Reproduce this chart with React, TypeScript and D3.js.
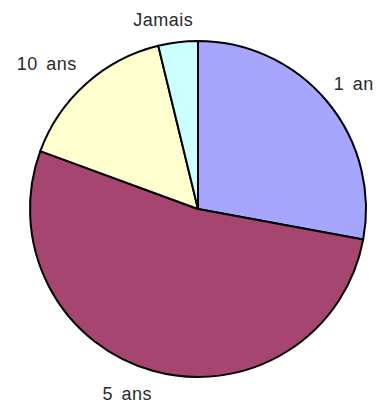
import React from "react";
import * as d3 from "d3";

const categories = ["1 an", "5 ans", "10 ans", "Jamais"];
const values = [27.9, 52.7, 15.6, 3.8];
const colors = ["#a6a6ff", "#a6456f", "#ffffd0", "#ccffff"];

// label nudges (px) relative to the arc centroid at the label radius
const labelNudge: Record<string, [number, number]> = {
  "1 an": [2, 3],
  "5 ans": [-18, -8],
  "10 ans": [-18, 4],
  Jamais: [-11, 10],
};

export default function App() {
  const width = 378;
  const height = 405;
  const cx = 198;
  const cy = 209;
  const r = 168;
  const labelR = 200;

  const data = categories.map((c, i) => ({ label: c, value: values[i], color: colors[i] }));
  const pie = d3.pie<any>().value((d: any) => d.value).sort(null);
  const arcs = pie(data);
  const arc = d3.arc<any>().innerRadius(0).outerRadius(r);
  const labelArc = d3.arc<any>().innerRadius(labelR).outerRadius(labelR);

  return (
    <svg width={width} height={height} style={{ position: "absolute", left: 0, top: 0 }}>
      <rect width={width} height={height} fill="#fff" />
      <g transform={`translate(${cx},${cy})`}>
        {arcs.map((a, i) => (
          <path key={i} d={arc(a) as string} fill={a.data.color} stroke="#000" strokeWidth={2} strokeLinejoin="round" />
        ))}
        {arcs.map((a, i) => {
          const [x, y] = labelArc.centroid(a);
          const [nx, ny] = labelNudge[a.data.label] || [0, 0];
          return (
            <text
              key={"t" + i}
              x={x + nx}
              y={y + ny}
              textAnchor="middle"
              dominantBaseline="central"
              fontFamily="Liberation Sans, Arial, sans-serif"
              fontSize={18}
              letterSpacing={0.5}
              wordSpacing={3}
              fill="#2a2a2a"
            >
              {a.data.label}
            </text>
          );
        })}
      </g>
    </svg>
  );
}
